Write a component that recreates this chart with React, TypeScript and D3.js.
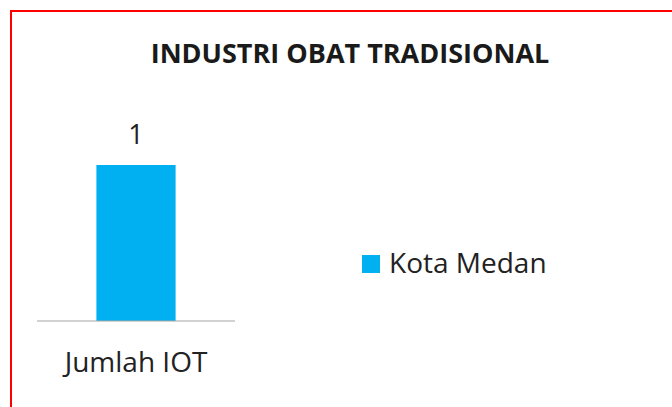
import React from 'react';
import * as d3 from 'd3';

const categories = ['Jumlah IOT'];
const seriesName = 'Kota Medan';
const values = [1];
const title = 'INDUSTRI OBAT TRADISIONAL';

const W = 672;
const H = 407;
const FONT = "'Open Sans', 'Noto Sans', sans-serif";

export default function App() {
  // plot area
  const x = d3.scaleBand<string>()
    .domain(categories)
    .range([37, 235])
    .paddingInner(0)
    .paddingOuter(0.75);

  const y = d3.scaleLinear()
    .domain([0, 1.2])
    .range([321, 321 - 156 * 1.2]);

  const color = '#00B0F0';

  return (
    <svg width={W} height={H} style={{ position: 'absolute', left: 0, top: 0, background: '#fff' }}>
      {/* outer red frame */}
      <rect x={11} y={11} width={W + 20} height={H + 20} fill="none" stroke="#FF0000" strokeWidth={2} />

      <text x={350} y={63} textAnchor="middle" fontFamily={FONT} fontWeight={700} fontSize={27} fill="#1a1a1a">
        {title}
      </text>

      {categories.map((c, i) => (
        <g key={c}>
          <rect
            x={x(c)}
            y={y(values[i])}
            width={x.bandwidth()}
            height={y(0) - y(values[i])}
            fill={color}
          />
          <text x={(x(c) ?? 0) + x.bandwidth() / 2} y={y(values[i]) - 21} textAnchor="middle"
            fontFamily={FONT} fontSize={27} fill="#222">
            {values[i]}
          </text>
          <text x={(x(c) ?? 0) + x.bandwidth() / 2} y={372} textAnchor="middle"
            fontFamily={FONT} fontSize={28} fill="#222">
            {c}
          </text>
        </g>
      ))}

      {/* category axis line */}
      <line x1={x.range()[0]} x2={x.range()[1]} y1={y(0)} y2={y(0)} stroke="#A6A6A6" strokeWidth={1.2} />

      {/* legend */}
      <rect x={362} y={255} width={18} height={18} fill={color} />
      <text x={389} y={273} fontFamily={FONT} fontSize={28} fill="#222">{seriesName}</text>
    </svg>
  );
}
